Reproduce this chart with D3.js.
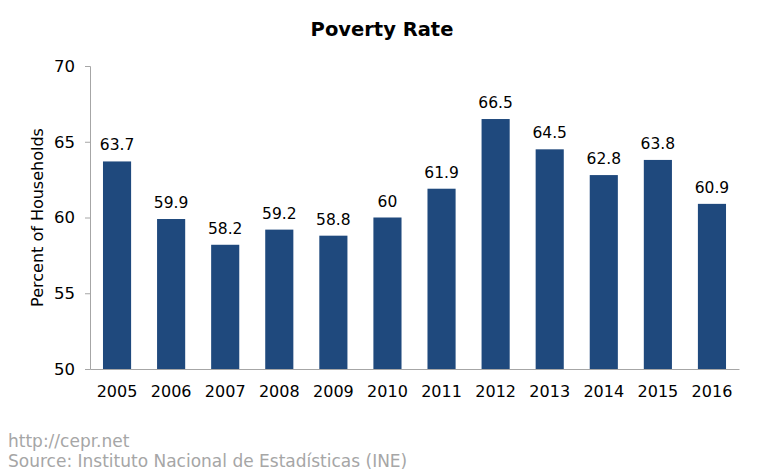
<!DOCTYPE html>
<html><head><meta charset="utf-8">
<script src="https://cdn.jsdelivr.net/npm/d3@7/dist/d3.min.js"></script>
<style>body{margin:0;background:#fff}svg{display:block}</style>
</head><body>
<svg id="c" width="763" height="474"></svg>
<script>
const years = ["2005","2006","2007","2008","2009","2010","2011","2012","2013","2014","2015","2016"];
const values = [63.7,59.9,58.2,59.2,58.8,60,61.9,66.5,64.5,62.8,63.8,60.9];
const yTicks = [50,55,60,65,70];

const svg = d3.select("#c");
const font = "'DejaVu Sans', Verdana, sans-serif";
const m = {left:90, right:739, top:66, bottom:369};
const x = d3.scaleBand().domain(years).range([m.left, m.right]).paddingInner(0.48).paddingOuter(0.24);
const y = d3.scaleLinear().domain([50,70]).range([m.bottom, m.top]);

svg.append("text").attr("x",382).attr("y",36).attr("text-anchor","middle")
  .attr("font-family",font).attr("font-weight","bold").attr("font-size",19.5).attr("fill","#000").text("Poverty Rate");

const ya = svg.append("g").attr("transform",`translate(${m.left},0)`)
  .call(d3.axisLeft(y).tickValues(yTicks).tickSize(5).tickPadding(10).tickFormat(d3.format("d")));
ya.select(".domain").attr("stroke","#a6a6a6");
ya.selectAll(".tick line").attr("stroke","#a6a6a6");
ya.selectAll("text").attr("font-family",font).attr("font-size",16.5).attr("fill","#000");

svg.selectAll("rect.bar").data(values).join("rect").attr("class","bar")
  .attr("x",(d,i)=>x(years[i])).attr("width",x.bandwidth())
  .attr("y",d=>y(d)).attr("height",d=>y(50)-y(d)).attr("fill","#1f497d");

const xa = svg.append("g").attr("transform",`translate(0,${m.bottom})`)
  .call(d3.axisBottom(x).tickSize(0).tickPadding(17));
xa.select(".domain").attr("stroke","#a6a6a6");
xa.selectAll("text").attr("font-family",font).attr("font-size",16).attr("fill","#000");

svg.selectAll("text.lbl").data(values).join("text").attr("class","lbl")
  .attr("x",(d,i)=>x(years[i])+x.bandwidth()/2).attr("y",d=>y(d)-11)
  .attr("text-anchor","middle").attr("font-family",font).attr("font-size",15.5).attr("fill","#000")
  .text(d=>d3.format("")(d));

svg.append("text").attr("transform",`translate(43,${(m.top+m.bottom)/2}) rotate(-90)`)
  .attr("text-anchor","middle").attr("font-family",font).attr("font-size",16).attr("fill","#000")
  .text("Percent of Households");

svg.append("text").attr("x",8).attr("y",447).attr("font-family",font).attr("font-size",17).attr("fill","#a6a6a6").text("http://cepr.net");
svg.append("text").attr("x",8).attr("y",467).attr("font-family",font).attr("font-size",17).attr("fill","#a6a6a6").text("Source: Instituto Nacional de Estadísticas (INE)");
</script>
</body></html>
